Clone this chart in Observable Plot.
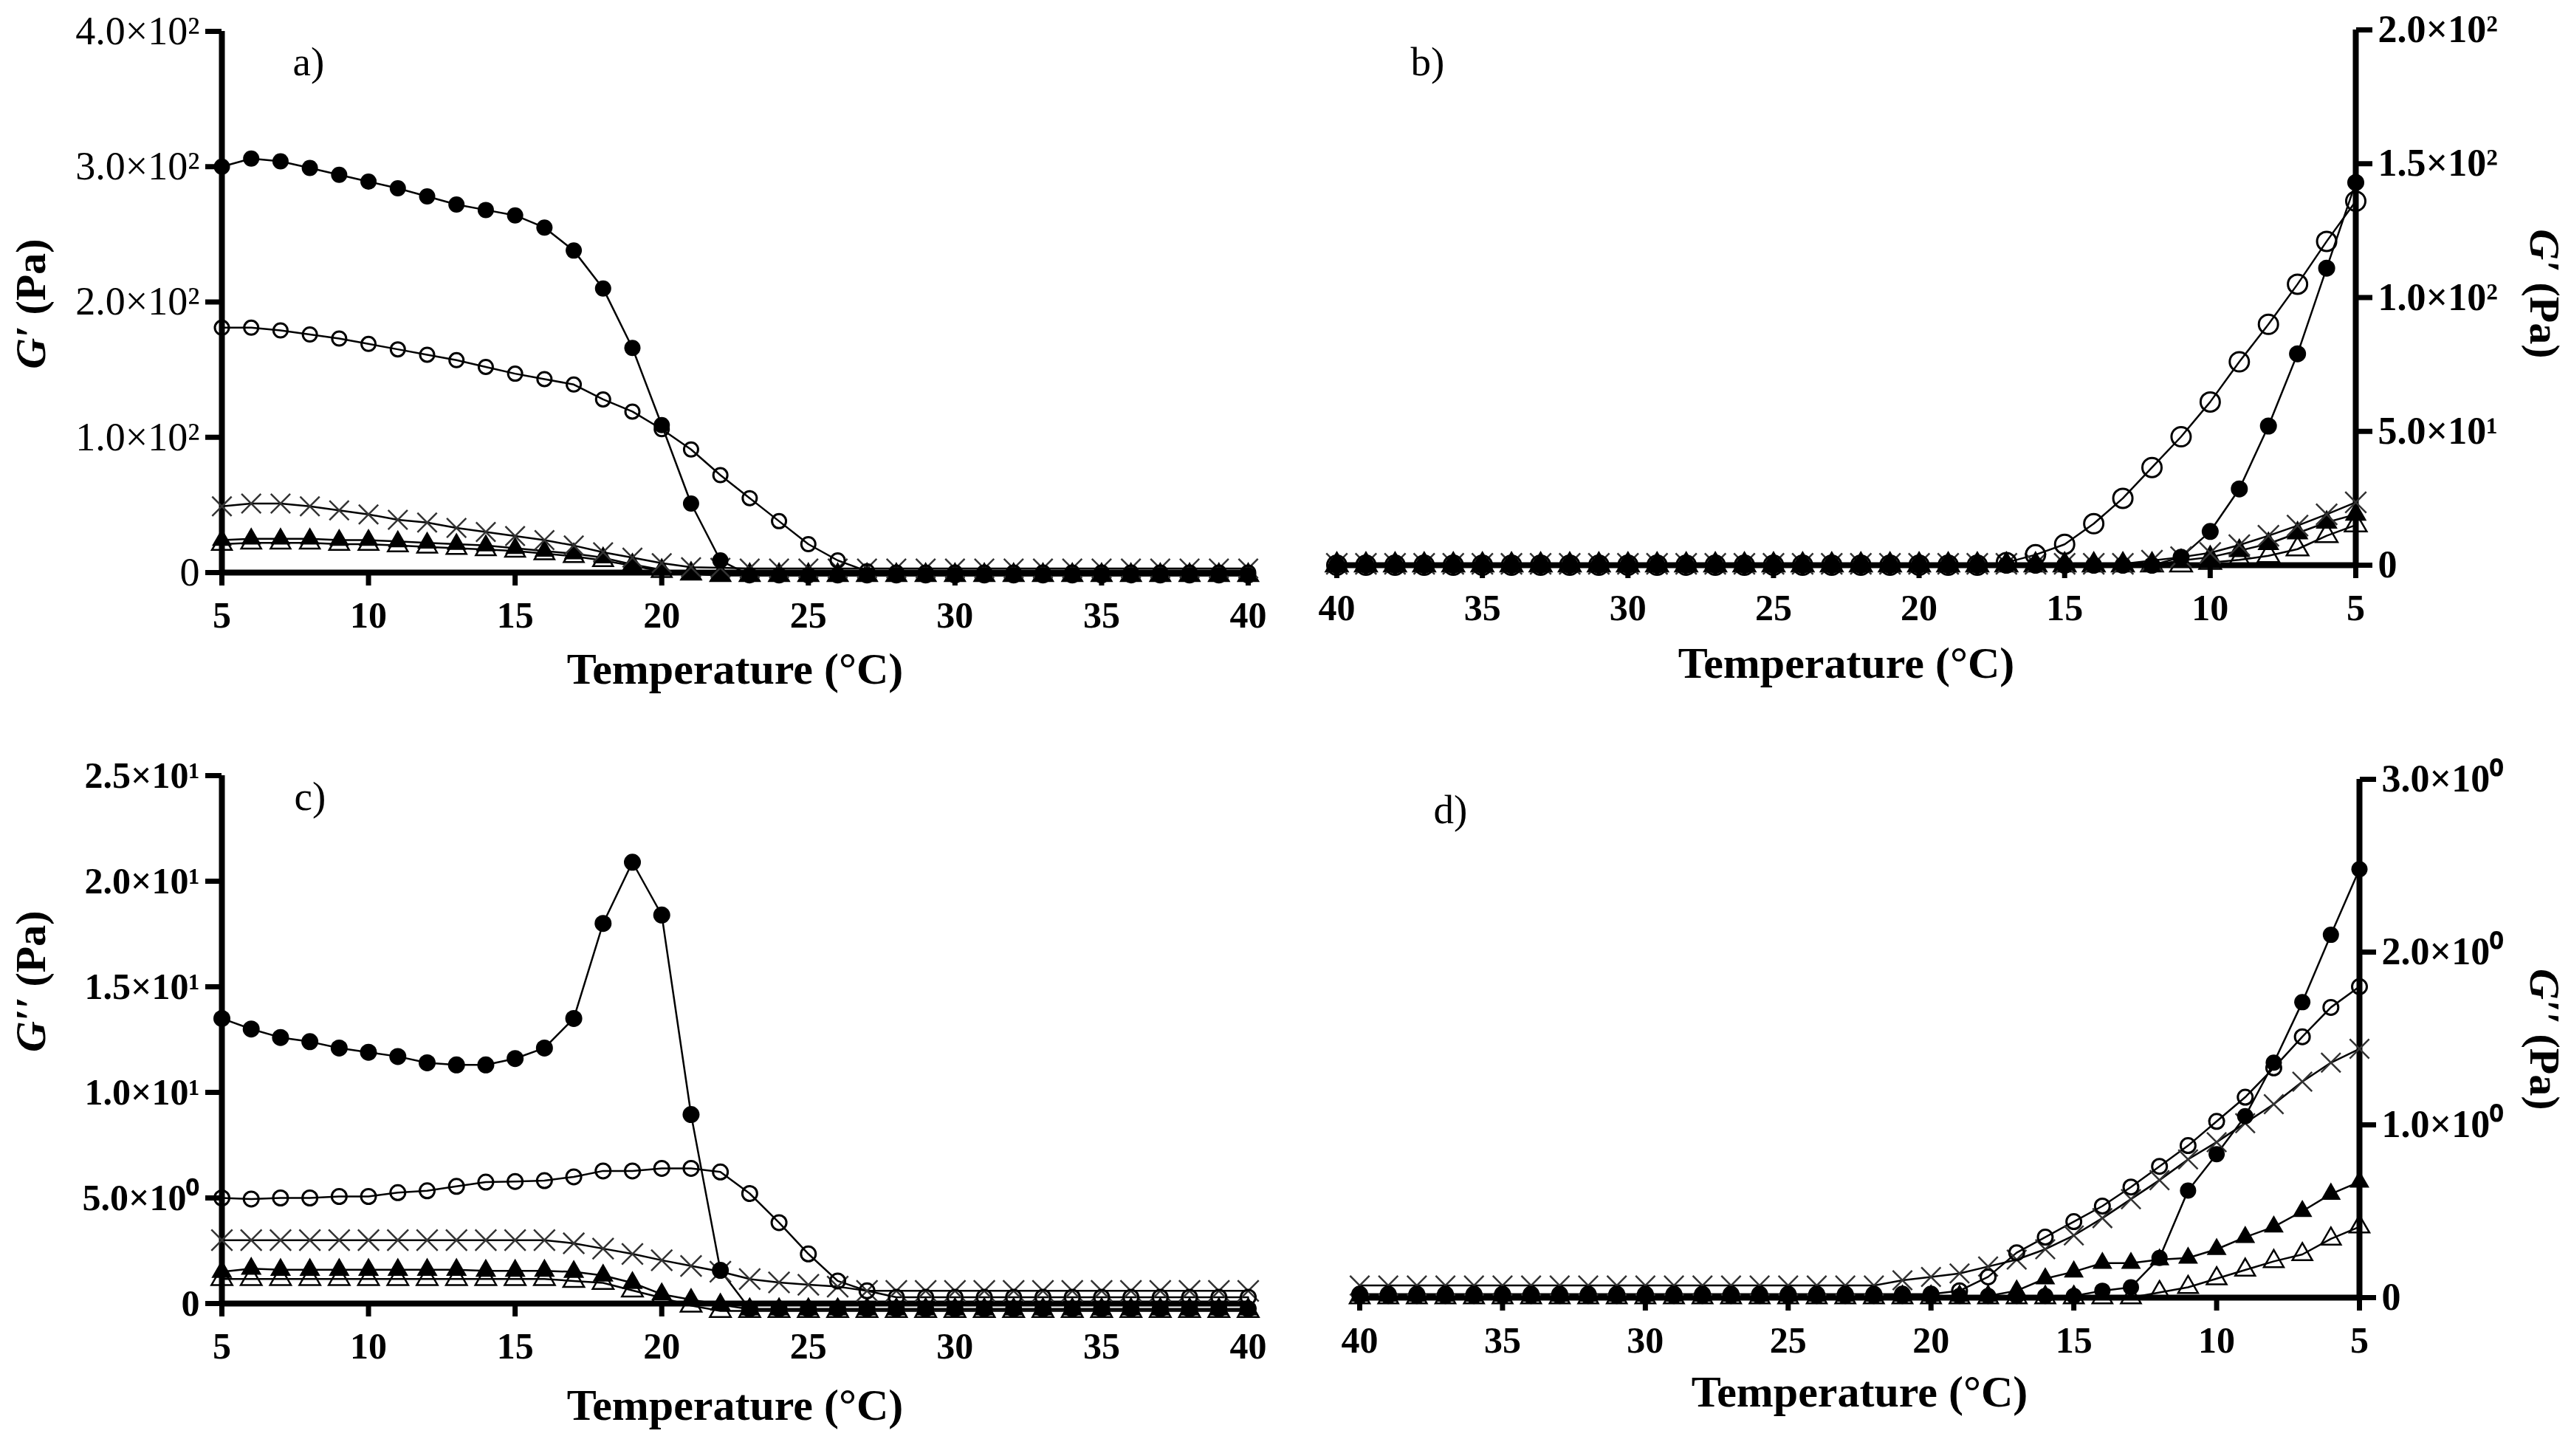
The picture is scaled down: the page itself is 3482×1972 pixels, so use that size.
<!DOCTYPE html>
<html><head><meta charset="utf-8">
<script src="https://cdn.jsdelivr.net/npm/d3@7"></script>
<script src="https://cdn.jsdelivr.net/npm/@observablehq/plot@0.6"></script>
<style>
html,body{margin:0;padding:0;background:#fff;}
#wrap{position:relative;width:3482px;height:1972px;background:#fff;overflow:hidden;}
.panel{position:absolute;width:1741px;height:986px;}
</style></head><body><div id="wrap">
<div class="panel" id="pa" style="left:0;top:0"></div>
<div class="panel" id="pb" style="left:1741px;top:0"></div>
<div class="panel" id="pc" style="left:0;top:986px"></div>
<div class="panel" id="pd" style="left:1741px;top:986px"></div>
</div>
<script>
// ---------- data ----------
const temperature = [5,6,7,8,9,10,11,12,13,14,15,16,17,18,19,20,21,22,23,24,25,26,27,28,29,30,31,32,33,34,35,36,37,38,39,40];
const xTicks = [5,10,15,20,25,30,35,40];

// a) G' heating (Pa)
const aFilledCircle = [300,306,304,299,294,289,284,278,272,268,264,255,238,210,166,109,51,9,-2,-2,-2,-2,-2,-2,-2,-2,-2,-2,-2,-2,-2,-2,-2,-2,-2,-2];
const aOpenCircle   = [181,181,179,176,173,169,165,161,157,152,147,143,139,128,119,106,91,72,55,38,21,9,1,0,0,0,0,0,0,0,0,0,0,0,0,0];
const aCross        = [49,51,51,49,46,43,39,37,33,30,27,24,20,15,11,7,4,3.5,3,3,3,3,3,3,3,3,3,3,3,3,3,3,3,3,3,3];
const aFilledTri    = [24,25,25,25,24,24,23,22,21,20,18,16,14,11,6,2,-1,-2,-2,-2,-2,-2,-2,-2,-2,-2,-2,-2,-2,-2,-2,-2,-2,-2,-2,-2];
const aOpenTri      = [21,22,22,22,21,21,20,19,18,17,16,14,12,9,5,1,-1,-2,-2,-2,-2,-2,-2,-2,-2,-2,-2,-2,-2,-2,-2,-2,-2,-2,-2,-2];
const aTicks = [0,100,200,300,400];
const aTickLabels = ["0","1.0×10²","2.0×10²","3.0×10²","4.0×10²"];

// b) G' cooling (Pa)
const bFilledCircle = [143,111,79,52,28.5,12.6,3,0,0,0,0,0,0,0,0,0,0,0,0,0,0,0,0,0,0,0,0,0,0,0,0,0,0,0,0,0];
const bOpenCircle   = [136,121,105,90,76,61,48,36.5,25,15.5,7.8,3.9,1,0,0,0,0,0,0,0,0,0,0,0,0,0,0,0,0,0,0,0,0,0,0,0];
const bCross        = [23.5,19,14.8,11,7.5,4.6,3,1.7,0.5,0.5,0.5,0.5,0.5,0.5,0.5,0.5,0.5,0.5,0.5,0.5,0.5,0.5,0.5,0.5,0.5,0.5,0.5,0.5,0.5,0.5,0.5,0.5,0.5,0.5,0.5,0.5];
const bFilledTri    = [19,16,12,8,5.4,3,1.7,0,0,0,0,0,0,0,0,0,0,0,0,0,0,0,0,0,0,0,0,0,0,0,0,0,0,0,0,0];
const bOpenTri      = [15,11,6,3.5,2,1,0,0,0,0,0,0,0,0,0,0,0,0,0,0,0,0,0,0,0,0,0,0,0,0,0,0,0,0,0,0];
const bTicks = [0,50,100,150,200];
const bTickLabels = ["0","5.0×10¹","1.0×10²","1.5×10²","2.0×10²"];

// c) G'' heating (Pa)
const cFilledCircle = [13.5,13.0,12.6,12.4,12.1,11.9,11.7,11.4,11.3,11.3,11.6,12.1,13.5,18.0,20.9,18.4,8.95,1.57,-0.25,-0.25,-0.25,-0.25,-0.25,-0.25,-0.25,-0.25,-0.25,-0.25,-0.25,-0.25,-0.25,-0.25,-0.25,-0.25,-0.25,-0.25];
const cOpenCircle   = [5.0,4.95,5.0,5.0,5.07,5.07,5.25,5.34,5.55,5.75,5.78,5.82,6.0,6.28,6.28,6.4,6.4,6.23,5.21,3.83,2.35,1.07,0.6,0.3,0.3,0.3,0.3,0.3,0.3,0.3,0.3,0.3,0.3,0.3,0.3,0.3];
const cCross        = [3.0,3.0,3.0,3.0,3.0,3.0,3.0,3.0,3.0,3.0,3.0,3.0,2.85,2.6,2.35,2.05,1.78,1.51,1.16,1.0,0.89,0.8,0.6,0.6,0.6,0.6,0.6,0.6,0.6,0.6,0.6,0.6,0.6,0.6,0.6,0.6];
const cFilledTri    = [1.5,1.65,1.6,1.6,1.6,1.6,1.6,1.6,1.6,1.55,1.55,1.55,1.5,1.33,0.98,0.44,0.18,-0.05,-0.27,-0.27,-0.27,-0.27,-0.27,-0.27,-0.27,-0.27,-0.27,-0.27,-0.27,-0.27,-0.27,-0.27,-0.27,-0.27,-0.27,-0.27];
const cOpenTri      = [1.16,1.16,1.16,1.16,1.16,1.16,1.16,1.16,1.16,1.16,1.16,1.16,1.07,0.98,0.62,0.27,-0.1,-0.35,-0.35,-0.35,-0.35,-0.35,-0.35,-0.35,-0.35,-0.35,-0.35,-0.35,-0.35,-0.35,-0.35,-0.35,-0.35,-0.35,-0.35,-0.35];
const cTicks = [0,5,10,15,20,25];
const cTickLabels = ["0","5.0×10⁰","1.0×10¹","1.5×10¹","2.0×10¹","2.5×10¹"];

// d) G'' cooling (Pa)
const dFilledCircle = [2.48,2.10,1.71,1.36,1.05,0.83,0.62,0.23,0.06,0.04,0.01,0.01,0.01,0.01,0.01,0.01,0.01,0.01,0.01,0.01,0.01,0.01,0.01,0.01,0.01,0.01,0.01,0.01,0.01,0.01,0.01,0.01,0.01,0.01,0.01,0.01];
const dOpenCircle   = [1.80,1.68,1.51,1.33,1.16,1.02,0.88,0.76,0.64,0.53,0.44,0.35,0.26,0.12,0.04,0.02,0.02,0.02,0.02,0.02,0.02,0.02,0.02,0.02,0.02,0.02,0.02,0.02,0.02,0.02,0.02,0.02,0.02,0.02,0.02,0.02];
const dCross        = [1.44,1.36,1.25,1.12,1.01,0.90,0.80,0.68,0.57,0.46,0.36,0.28,0.22,0.18,0.14,0.12,0.10,0.07,0.07,0.07,0.07,0.07,0.07,0.07,0.07,0.07,0.07,0.07,0.07,0.07,0.07,0.07,0.07,0.07,0.07,0.07];
const dFilledTri    = [0.67,0.60,0.50,0.41,0.35,0.28,0.23,0.22,0.20,0.20,0.15,0.11,0.04,0.01,0.01,0.01,0.01,0.01,0.01,0.01,0.01,0.01,0.01,0.01,0.01,0.01,0.01,0.01,0.01,0.01,0.01,0.01,0.01,0.01,0.01,0.01];
const dOpenTri      = [0.41,0.34,0.25,0.21,0.16,0.11,0.06,0.03,0,0,0,0,0,0,0,0,0,0,0,0,0,0,0,0,0,0,0,0,0,0,0,0,0,0,0,0];
const dTicks = [0,1,2,3];
const dTickLabels = ["0","1.0×10⁰","2.0×10⁰","3.0×10⁰"];

// ---------- drawing ----------
const FONT = '"Liberation Serif","Times New Roman",Times,serif';
const rows = (values) => temperature.map((t, i) => ({t, v: values[i]}));

function panel(el, o) {
  const series = [
    {values: o.openTri,      symbol: "triangle", fill: "none",  stroke: "black", sw: 2.5, r: o.rTri},
    {values: o.filledTri,    symbol: "triangle", fill: "black", stroke: "none",  sw: 0,   r: o.rTri},
    {values: o.cross,        symbol: "times",    fill: "none",  stroke: "#333",  sw: 2.5, r: o.rCross},
    {values: o.openCircle,   symbol: "circle",   fill: "none",  stroke: "black", sw: 3,   r: o.rOpen},
    {values: o.filledCircle, symbol: "circle",   fill: "black", stroke: "none",  sw: 0,   r: o.rFill}
  ];
  const ymax = o.yTicks[o.yTicks.length - 1];
  const marks = [
    Plot.ruleY([0], {x1: 5, x2: 40, stroke: "black", strokeWidth: 8}),
    Plot.ruleX([5], {y1: 0, y2: ymax, stroke: "black", strokeWidth: 8}),
    Plot.axisX({ticks: xTicks, tickFormat: d => String(d), tickSize: 18, tickPadding: 21,
      fontSize: 50, fontWeight: "bold", strokeWidth: 7, label: null}),
    Plot.axisY({anchor: o.side, ticks: o.yTicks, tickFormat: d => o.yLabels[o.yTicks.indexOf(d)],
      tickSize: 22, tickPadding: 8, fontSize: o.yFont, fontWeight: o.yWeight, strokeWidth: 7, label: null})
  ];
  for (const s of series) marks.push(Plot.line(rows(s.values), {x: "t", y: "v", stroke: "black", strokeWidth: 2.5}));
  for (const s of series) marks.push(Plot.dot(rows(s.values), {x: "t", y: "v", symbol: s.symbol, r: s.r,
      fill: s.fill, stroke: s.stroke, strokeWidth: s.sw}));
  marks.push(
    Plot.text(["Temperature (°C)"], {text: d => d, frameAnchor: "bottom", dy: o.xTitleDy,
      fontSize: 60, fontWeight: "bold"}),
    Plot.text([o.gSym], {text: d => d, frameAnchor: o.side, dx: o.titleDx, dy: o.gDy, rotate: o.rot,
      textAnchor: "end", fontStyle: "italic", fontWeight: "bold", fontSize: 58}),
    Plot.text(["(Pa)"], {text: d => d, frameAnchor: o.side, dx: o.titleDx, dy: o.paDy, rotate: o.rot,
      textAnchor: "start", fontWeight: "bold", fontSize: 58}),
    Plot.text([o.label], {text: d => d, frameAnchor: "top-left", dx: o.labelDx, dy: o.labelDy, fontSize: 55})
  );
  const svg = Plot.plot({
    width: 1741, height: 986,
    marginTop: o.m[0], marginRight: o.m[1], marginBottom: o.m[2], marginLeft: o.m[3],
    x: {domain: o.xDomain},
    y: {domain: [0, ymax]},
    style: {fontFamily: FONT, background: "white", color: "black", overflow: "visible"},
    marks
  });
  document.getElementById(el).appendChild(svg);
}

panel("pa", {m: [42, 51, 211, 300], xDomain: [5, 40], side: "left", rot: -90,
  yTicks: aTicks, yLabels: aTickLabels, yFont: 54, yWeight: "normal",
  filledCircle: aFilledCircle, openCircle: aOpenCircle, cross: aCross, filledTri: aFilledTri, openTri: aOpenTri,
  rFill: 11, rOpen: 9.5, rCross: 12, rTri: 10,
  xTitleDy: 150, gSym: "G′", titleDx: -258, gDy: 32.5, paDy: 17.5, label: "a)", labelDx: 96, labelDy: 20});

panel("pb", {m: [40, 292, 221, 69], xDomain: [40, 5], side: "right", rot: 90,
  yTicks: bTicks, yLabels: bTickLabels, yFont: 52, yWeight: "bold",
  filledCircle: bFilledCircle, openCircle: bOpenCircle, cross: bCross, filledTri: bFilledTri, openTri: bOpenTri,
  rFill: 11.5, rOpen: 13, rCross: 13, rTri: 11,
  xTitleDy: 152, gSym: "G′", titleDx: 255, gDy: -34.5, paDy: -20.5, label: "b)", labelDx: 100, labelDy: 22});

panel("pc", {m: [64, 51, 207, 300], xDomain: [5, 40], side: "left", rot: -90,
  yTicks: cTicks, yLabels: cTickLabels, yFont: 50, yWeight: "bold",
  filledCircle: cFilledCircle, openCircle: cOpenCircle, cross: cCross, filledTri: cFilledTri, openTri: cOpenTri,
  rFill: 11.5, rOpen: 10, rCross: 13, rTri: 10.5,
  xTitleDy: 157, gSym: "G′′", titleDx: -258, gDy: -57.5, paDy: -71.5, label: "c)", labelDx: 98, labelDy: 7});

panel("pd", {m: [69, 287, 215, 100], xDomain: [40, 5], side: "right", rot: 90,
  yTicks: dTicks, yLabels: dTickLabels, yFont: 52, yWeight: "bold",
  filledCircle: dFilledCircle, openCircle: dOpenCircle, cross: dCross, filledTri: dFilledTri, openTri: dOpenTri,
  rFill: 11, rOpen: 10, rCross: 12, rTri: 10,
  xTitleDy: 147, gSym: "G′′", titleDx: 250, gDy: -20, paDy: -6, label: "d)", labelDx: 100, labelDy: 20});
</script>
</body></html>
